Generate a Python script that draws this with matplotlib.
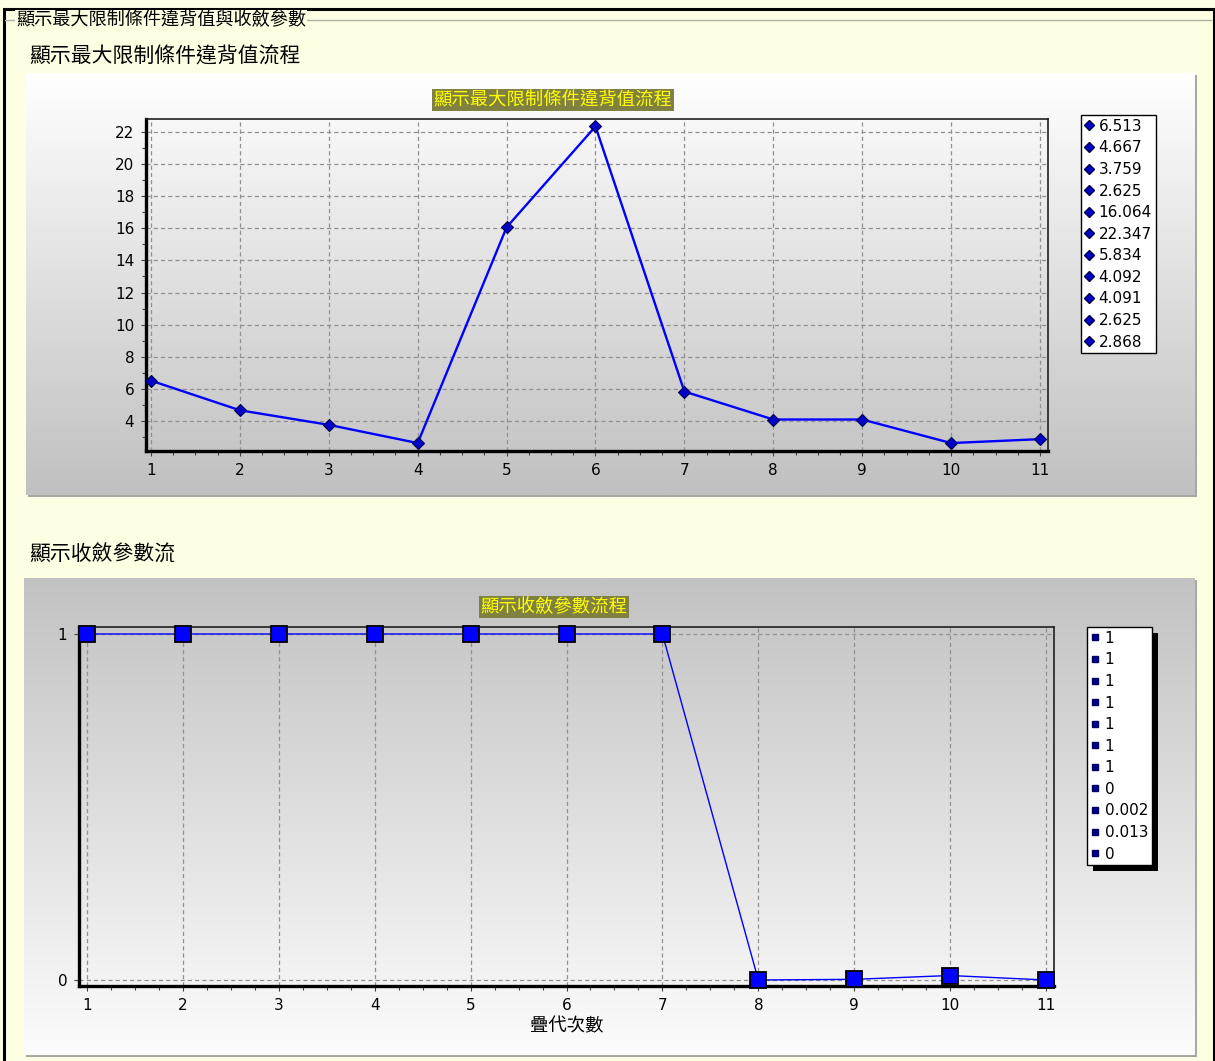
import matplotlib
matplotlib.use("Agg")
import matplotlib.pyplot as plt
import numpy as np
from matplotlib.lines import Line2D
from matplotlib.patches import Rectangle
from matplotlib.ticker import MultipleLocator

plt.rcParams['lines.scale_dashes'] = False
plt.rcParams['font.family'] = ['DejaVu Sans']
CJK = ['Noto Sans CJK TC', 'DejaVu Sans']

# ---------------- data ----------------
iterations = [1, 2, 3, 4, 5, 6, 7, 8, 9, 10, 11]
violation = [6.513, 4.667, 3.759, 2.625, 16.064, 22.347, 5.834, 4.092, 4.091, 2.625, 2.868]
convergence = [1, 1, 1, 1, 1, 1, 1, 0, 0.002, 0.013, 0]
violation_yticks = [4, 6, 8, 10, 12, 14, 16, 18, 20, 22]
convergence_yticks = [0, 1]

group_title = "顯示最大限制條件違背值與收斂參數"
section1 = "顯示最大限制條件違背值流程"
chart1_title = "顯示最大限制條件違背值流程"
section2 = "顯示收斂參數流"
chart2_title = "顯示收斂參數流程"
xlabel2 = "疊代次數"

# ---------------- figure ----------------
W, H = 1215, 1061
fig = plt.figure(figsize=(W / 100, H / 100), dpi=100)
fig.patch.set_facecolor('#FEFEE2')


def fx(px):
    return px / W


def fy(py):
    return 1 - py / H


def rect(x0, y0, x1, y1):
    return [fx(x0), fy(y1), fx(x1) - fx(x0), fy(y0) - fy(y1)]


# outer black frame
fig.patches.append(Rectangle((fx(3.5), fy(1100)), fx(1213.5) - fx(3.5), fy(9) - fy(1100),
                             transform=fig.transFigure, fill=False, edgecolor='black',
                             linewidth=2.2, zorder=-5))
# group box line
fig.add_artist(Line2D([fx(5), fx(1211)], [fy(19.5), fy(19.5)], transform=fig.transFigure,
                      color='#B0B0A8', linewidth=1.0, zorder=-4))
fig.text(fx(16), fy(20), group_title, family=CJK, fontsize=13.1, va='center', ha='left',
         bbox=dict(facecolor='#FEFEE2', edgecolor='none', pad=0.5), zorder=-3)

fig.text(fx(29), fy(57), section1, family=CJK, fontsize=15, va='center', ha='left')
fig.text(fx(29), fy(555), section2, family=CJK, fontsize=15, va='center', ha='left')


def panel(x0, y0, x1, y1, top_col, bot_col):
    sh = fig.add_axes(rect(x0 + 2, y0 + 2, x1 + 2, y1 + 2), zorder=-3)
    sh.set_axis_off()
    sh.add_patch(Rectangle((0, 0), 1, 1, transform=sh.transAxes, color='#A8A8A0'))
    pa = fig.add_axes(rect(x0, y0, x1, y1), zorder=-2)
    t = np.linspace(0, 1, 256)[:, None]
    c0 = np.array(matplotlib.colors.to_rgb(top_col))
    c1 = np.array(matplotlib.colors.to_rgb(bot_col))
    img = (c0[None, None, :] * (1 - t[:, :, None]) + c1[None, None, :] * t[:, :, None])
    pa.imshow(img, aspect='auto', extent=[0, 1, 0, 1], interpolation='bilinear')
    pa.set_xlim(0, 1)
    pa.set_ylim(0, 1)
    pa.set_axis_off()
    return pa


panel(26, 73, 1195, 495, '#FFFFFF', '#C0C0C0')
panel(24, 578, 1195, 1055, '#C2C2C2', '#FCFCFC')


def style_axes(ax):
    ax.set_facecolor('none')
    for s in ['left', 'bottom']:
        ax.spines[s].set_linewidth(2.4)
        ax.spines[s].set_color('black')
    for s in ['top', 'right']:
        ax.spines[s].set_linewidth(1.2)
        ax.spines[s].set_color('#202020')
    ax.grid(True, which='major', color='#909090', linewidth=0.9, dashes=(3, 2.2))
    ax.tick_params(which='major', direction='out', length=3.5, width=0.8, color='#404040',
                   labelsize=11, pad=5)
    ax.tick_params(which='minor', direction='out', length=3, width=0.8, color='#404040')
    ax.xaxis.set_minor_locator(MultipleLocator(0.25))
    ax.set_axisbelow(True)


# ---------------- chart 1 ----------------
ax1 = fig.add_axes(rect(146, 119, 1048, 451), zorder=0)
style_axes(ax1)
ax1.plot(iterations, violation, color='#0000FF', linewidth=1.7, marker='D', markersize=6.5,
         markerfacecolor='#0000C8', markeredgecolor='#000050', markeredgewidth=0.8, zorder=3)
ax1.set_xlim(0.944, 11.09)
ax1.set_ylim(2.13, 22.81)
ax1.set_xticks(iterations)
ax1.set_yticks(violation_yticks)
ax1.yaxis.set_minor_locator(MultipleLocator(1))
fig.text(fx(553), fy(100), chart1_title, family=CJK, fontsize=13.2, color='#FFFF00',
         ha='center', va='center', bbox=dict(facecolor='#808040', edgecolor='none', pad=1.2))

h1 = [Line2D([], [], linestyle='none', marker='D', markersize=5, markerfacecolor='#0000C8',
             markeredgecolor='#000050') for _ in violation]
leg1 = ax1.legend(h1, ['{:g}'.format(v) for v in violation], loc='upper left',
                  bbox_to_anchor=(fx(1081), fy(115)), bbox_transform=fig.transFigure,
                  borderaxespad=0, fontsize=11, frameon=True, fancybox=False, framealpha=1,
                  edgecolor='black', facecolor='white', borderpad=0.25, labelspacing=0.43,
                  handlelength=0.6, handletextpad=0.3, numpoints=1)
leg1.get_frame().set_linewidth(1.0)

# ---------------- chart 2 ----------------
ax2 = fig.add_axes(rect(79, 627, 1054, 986), zorder=0)
style_axes(ax2)
ax2.plot(iterations, convergence, color='#0000FF', linewidth=1.0, marker='s', markersize=11,
         markerfacecolor='#0000FF', markeredgecolor='black', markeredgewidth=1.3, zorder=3,
         clip_on=False)
ax2.set_xlim(0.917, 11.083)
ax2.set_ylim(-0.0173, 1.0202)
ax2.set_xticks(iterations)
ax2.set_yticks(convergence_yticks)
ax2.set_xlabel(xlabel2, family=CJK, fontsize=13.2, labelpad=3)
fig.text(fx(554), fy(607), chart2_title, family=CJK, fontsize=13.2, color='#FFFF00',
         ha='center', va='center', bbox=dict(facecolor='#808040', edgecolor='none', pad=1.2))

h2 = [Line2D([], [], linestyle='none', marker='s', markersize=4.5, markerfacecolor='#000090',
             markeredgecolor='#000060') for _ in convergence]
leg2 = ax2.legend(h2, ['{:g}'.format(v) for v in convergence], loc='upper left',
                  bbox_to_anchor=(fx(1087), fy(627)), bbox_transform=fig.transFigure,
                  borderaxespad=0, fontsize=11, frameon=True, fancybox=False, framealpha=1,
                  edgecolor='black', facecolor='white', borderpad=0.25, labelspacing=0.43,
                  handlelength=0.6, handletextpad=0.3, numpoints=1)
leg2.get_frame().set_linewidth(1.0)
leg2.set_zorder(6)

fig.canvas.draw()
bb = leg2.get_window_extent(fig.canvas.get_renderer())
shadow = Rectangle(((bb.x0 + 6) / W, (bb.y0 - 6) / H), bb.width / W, bb.height / H,
                   transform=fig.transFigure, facecolor='black', edgecolor='none',
                   zorder=5.5, clip_on=False)
ax2.add_artist(shadow)

fig.savefig('out.png', dpi=100, facecolor=fig.get_facecolor())
